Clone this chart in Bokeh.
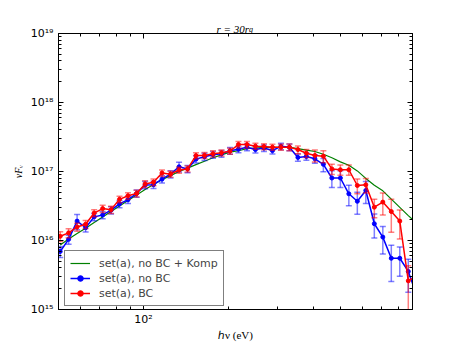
import numpy as np
from bokeh.plotting import figure
from bokeh.models import (Range1d, LogAxis, Label, Legend, LegendItem, ColumnDataSource,
                          FixedTicker, CustomJSTickFormatter)
from bokeh.embed import file_html
from bokeh.resources import INLINE

# photon energy bins (eV)
energy = [50.7, 54.3, 58.2, 62.4, 66.9, 71.7, 76.8, 82.3, 88.2, 94.6, 101.4, 108.6, 116.4,
          124.8, 133.8, 143.4, 153.6, 164.7, 176.5, 189.2, 202.8, 217.3, 232.9, 249.6, 267.6,
          286.8, 307.4, 329.4, 353.1, 378.4, 405.6, 434.7, 465.9, 499.4, 535.2, 573.6, 614.8,
          659.0, 706.3, 757.0, 811.3, 869.6, 932.0]

# set(a), BC  (red)
flux_bc = [1.15e16, 1.29e16, 1.57e16, 1.72e16, 2.50e16, 2.90e16, 2.80e16, 3.95e16, 4.45e16,
           4.80e16, 6.60e16, 7.00e16, 9.50e16, 9.15e16, 1.05e17, 1.09e17, 1.70e17, 1.71e17,
           1.81e17, 1.87e17, 1.97e17, 2.46e17, 2.46e17, 2.33e17, 2.30e17, 2.25e17, 2.25e17,
           2.25e17, 2.08e17, 1.84e17, 1.71e17, 1.67e17, 1.09e17, 1.06e17, 1.06e17, 6.27e16,
           6.41e16, 3.04e16, 3.60e16, 2.63e16, 1.91e16, 2.60e15, 3.10e15]
err_bc = [0.16, 0.15, 0.13, 0.13, 0.12, 0.12, 0.12, 0.11, 0.11, 0.11, 0.11, 0.11, 0.11, 0.10,
          0.10, 0.10, 0.10, 0.10, 0.10, 0.10, 0.10, 0.11, 0.11, 0.10, 0.10, 0.10, 0.10, 0.11,
          0.13, 0.13, 0.20, 0.20, 0.17, 0.17, 0.17, 0.24, 0.24, 0.30, 0.35, 0.50, 0.45, 0.65,
          0.60]

# set(a), no BC  (blue)
flux_nobc = [6.93e15, 1.04e16, 1.91e16, 1.53e16, 2.20e16, 2.35e16, 2.75e16, 3.40e16, 3.90e16,
             4.80e16, 6.37e16, 6.44e16, 7.74e16, 9.15e16, 1.17e17, 1.09e17, 1.51e17, 1.64e17,
             1.75e17, 1.81e17, 2.00e17, 2.10e17, 2.25e17, 2.08e17, 2.19e17, 2.01e17, 2.32e17,
             2.25e17, 1.60e17, 1.65e17, 1.53e17, 1.27e17, 8.05e16, 8.05e16, 4.75e16, 3.70e16,
             5.31e16, 1.75e16, 1.12e16, 5.53e15, 5.53e15, 3.56e15, 1.60e15]
err_nobc = [0.18, 0.15, 0.25, 0.13, 0.12, 0.12, 0.12, 0.12, 0.12, 0.12, 0.12, 0.12, 0.12, 0.12,
            0.16, 0.12, 0.12, 0.12, 0.11, 0.11, 0.11, 0.11, 0.11, 0.11, 0.11, 0.11, 0.11, 0.11,
            0.12, 0.12, 0.14, 0.22, 0.27, 0.27, 0.33, 0.35, 0.35, 0.38, 0.43, 0.54, 0.45, 0.50,
            0.50]

# set(a), no BC + Komp  (green)
flux_komp = [8.61e15, 1.05e16, 1.26e16, 1.51e16, 1.82e16, 2.19e16, 2.63e16, 3.16e16, 3.80e16,
             4.57e16, 5.50e16, 6.46e16, 7.59e16, 8.71e16, 1.00e17, 1.12e17, 1.26e17, 1.41e17,
             1.58e17, 1.74e17, 1.91e17, 2.00e17, 2.14e17, 2.19e17, 2.24e17, 2.24e17, 2.24e17,
             2.24e17, 2.14e17, 2.04e17, 1.95e17, 1.78e17, 1.58e17, 1.38e17, 1.23e17, 1.02e17,
             7.94e16, 6.31e16, 5.25e16, 3.98e16, 3.02e16, 2.29e16, 1.78e16]

labels = ["set(a), no BC + Komp", "set(a), no BC", "set(a), BC"]

x_major = [100]
x_minor = [60, 70, 80, 90, 200, 300, 400, 500, 600, 700, 800]
x_tick_labels = {100: "10\u00b2"}
y_major = [1e15, 1e16, 1e17, 1e18, 1e19]
y_tick_labels = {1e15: "10\u00b9\u2075", 1e16: "10\u00b9\u2076", 1e17: "10\u00b9\u2077",
                 1e18: "10\u00b9\u2078", 1e19: "10\u00b9\u2079"}
y_minor = [m * d for d in [1e15, 1e16, 1e17, 1e18] for m in range(2, 10)]

p = figure(frame_width=354, frame_height=276, x_axis_type="log", y_axis_type="log",
           x_range=Range1d(50, 900), y_range=Range1d(1e15, 1e19),
           output_backend="svg", toolbar_location=None,
           min_border_left=58, min_border_right=46, min_border_top=33, min_border_bottom=36)
p.grid.visible = False
p.outline_line_color = "black"
p.outline_line_width = 1
p.background_fill_color = "white"
p.border_fill_color = "white"

xt = FixedTicker(ticks=x_major, minor_ticks=x_minor)
yt = FixedTicker(ticks=y_major, minor_ticks=y_minor)


def style(ax):
    ax.axis_line_color = "black"
    ax.major_tick_line_color = "black"
    ax.minor_tick_line_color = "black"
    ax.major_tick_in = 5
    ax.major_tick_out = 0
    ax.minor_tick_in = 3
    ax.minor_tick_out = 0
    ax.major_label_text_font = "DejaVu Sans"
    ax.major_label_text_font_size = "11px"
    ax.major_label_text_color = "black"
    ax.major_label_standoff = 5
    ax.axis_label_text_color = "black"


serif = "Liberation Serif"
xa = p.xaxis[0]
ya = p.yaxis[0]
xa.ticker = xt
ya.ticker = yt
xa.major_label_overrides = x_tick_labels
ya.major_label_overrides = y_tick_labels
style(xa)
style(ya)
xa.major_label_standoff = 3
xa.axis_label = "\u210e\u03bd (eV)"
xa.axis_label_text_font = serif
xa.axis_label_text_font_style = "normal"
xa.axis_label_text_font_size = "11px"
xa.axis_label_standoff = 0
ya.axis_label = "\u03bdF\u1d65"
ya.axis_label_text_font = serif
ya.axis_label_text_font_style = "italic"
ya.axis_label_text_font_size = "10px"
ya.axis_label_standoff = 4

blank = CustomJSTickFormatter(code="return ''")
top = LogAxis(ticker=xt, formatter=blank)
right = LogAxis(ticker=yt, formatter=blank)
style(top)
style(right)
for ax in (top, right):
    ax.major_label_text_font_size = "1px"
    ax.major_label_standoff = 0
top.axis_label = "r = 30r\u2002"
top.axis_label_text_font = serif
top.axis_label_text_font_style = "italic"
top.axis_label_text_font_size = "11px"
top.axis_label_standoff = -1
p.add_layout(top, "above")
p.add_layout(right, "right")

e = np.array(energy)
src_g = ColumnDataSource(dict(x=e, y=np.array(flux_komp)))
fb = np.array(flux_nobc); fe = np.array(err_nobc)
src_b = ColumnDataSource(dict(x=e, y=fb, up=fb * (1 + fe), lo=fb * (1 - fe)))
fr = np.array(flux_bc); re_ = np.array(err_bc)
src_r = ColumnDataSource(dict(x=e, y=fr, up=fr * (1 + re_), lo=fr * (1 - re_)))

green = p.line("x", "y", source=src_g, line_color="#008000", line_width=1.2)


def series(src, color):
    p.segment(x0="x", y0="lo", x1="x", y1="up", source=src, line_color=color,
              line_alpha=0.5, line_width=1.5)
    p.scatter("x", "up", source=src, marker="dash", size=6, line_color=color,
              line_alpha=0.5, line_width=1.5)
    p.scatter("x", "lo", source=src, marker="dash", size=6, line_color=color,
              line_alpha=0.5, line_width=1.5)
    ln = p.line("x", "y", source=src, line_color=color, line_width=1.5)
    pts = p.scatter("x", "y", source=src, marker="circle", size=4, line_color=color,
                    fill_color=color)
    return [ln, pts]


blue_r = series(src_b, "#0000ff")
red_r = series(src_r, "#ff0000")

legend = Legend(items=[LegendItem(label=labels[0], renderers=[green]),
                       LegendItem(label=labels[1], renderers=blue_r),
                       LegendItem(label=labels[2], renderers=red_r)],
                location=(6, 3), border_line_color="black", border_line_width=1,
                label_text_font="DejaVu Sans", label_text_font_size="11px",
                glyph_width=20, glyph_height=14, label_height=14, spacing=1,
                padding=5, label_standoff=9, margin=0, background_fill_alpha=1)
p.add_layout(legend)

# subscript g of the title, in the right side panel (y measured from frame bottom)
sub_g = Label(x=-163.5, y=276, x_units="screen", y_units="screen", text="g",
              text_align="left", text_font=serif, text_font_style="italic",
              text_font_size="8px", text_color="black")
p.add_layout(sub_g, "right")

open("out.html", "w").write(file_html(p, INLINE))
